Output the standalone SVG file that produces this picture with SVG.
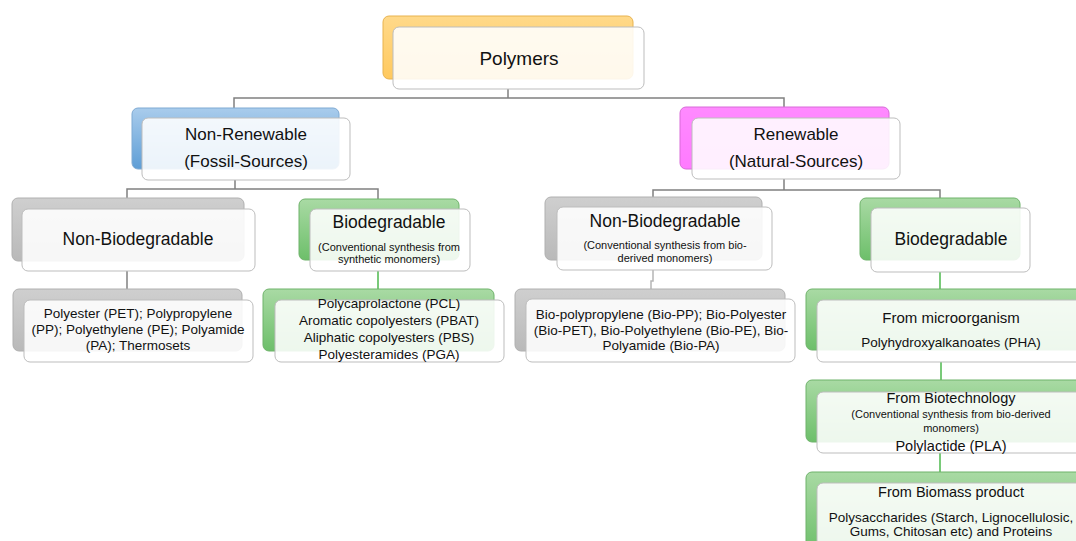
<svg xmlns="http://www.w3.org/2000/svg" width="1076" height="541" viewBox="0 0 1076 541">
<defs>
<linearGradient id="gOr" x1="0" y1="0" x2="0" y2="1"><stop offset="0" stop-color="#FFD98A"/><stop offset="1" stop-color="#FFC95E"/></linearGradient>
<linearGradient id="gBl" x1="0" y1="0" x2="0" y2="1"><stop offset="0" stop-color="#A9CCEC"/><stop offset="1" stop-color="#5E9ED6"/></linearGradient>
<linearGradient id="gMg" x1="0" y1="0" x2="0" y2="1"><stop offset="0" stop-color="#FF8AFF"/><stop offset="1" stop-color="#FF7AFF"/></linearGradient>
<linearGradient id="gGy" x1="0" y1="0" x2="0" y2="1"><stop offset="0" stop-color="#CFCFCF"/><stop offset="1" stop-color="#B9B9B9"/></linearGradient>
<linearGradient id="gGr" x1="0" y1="0" x2="0" y2="1"><stop offset="0" stop-color="#A9DAA4"/><stop offset="1" stop-color="#6DBF6A"/></linearGradient>
<style>
.bk{stroke-width:1;rx:6;ry:6}
.or{fill:url(#gOr);stroke:#E8B34F}
.bl{fill:url(#gBl);stroke:#7FAAD3}
.mg{fill:url(#gMg);stroke:#D86BD8}
.gy{fill:url(#gGy);stroke:#B0B0B0}
.gr{fill:url(#gGr);stroke:#6FB36B}
.fr{fill:#FFFFFF;fill-opacity:0.88;stroke:#BDBDBD;stroke-width:1;rx:6;ry:6}
text{font-family:"Liberation Sans",Arial,sans-serif;fill:#111;text-anchor:middle}
.t19{font-size:19px}
.t17{font-size:17px}
.t175{font-size:17.5px}
.t15{font-size:15px}
.t145{font-size:14.5px}
.t135{font-size:13.5px}
.t11{font-size:11px}
.cg{fill:none;stroke:#808080;stroke-width:1.5}
.cl{fill:none;stroke:#B5B5B5;stroke-width:1.5}
.cn{fill:none;stroke:#4CB84C;stroke-width:1.5}
</style>
</defs>
<rect width="1076" height="541" fill="#FFFFFF"/>
<g id="connectors">
<path class="cg" d="M508,89 V98 M234,108 V98 H784 V107"/>
<path class="cg" d="M235,180 V189 M127,198 V189 H378 V199"/>
<path class="cg" d="M784,179 V190 M653,197 V190 H940 V198"/>
<path class="cg" d="M127,271 V289"/>
<path class="cn" d="M378,271 V289"/>
<path class="cl" d="M653,270 V281 H651 V289"/>
<path class="cn" d="M940,272 V289"/>
<path class="cn" d="M941,362 V380"/>
<path class="cn" d="M940,453 V472"/>
</g>
<g id="polymers">
<rect class="bk or" x="383" y="16" width="250" height="63"/>
<rect class="fr" x="393" y="27" width="251" height="62"/>
<text class="t19" x="519" y="65">Polymers</text>
</g>
<g id="non-renewable">
<rect class="bk bl" x="132" y="108" width="207" height="61"/>
<rect class="fr" x="142" y="118" width="208" height="62"/>
<text class="t17" x="246" y="140">Non-Renewable</text>
<text class="t17" x="246" y="167">(Fossil-Sources)</text>
</g>
<g id="renewable">
<rect class="bk mg" x="680" y="107" width="209" height="62"/>
<rect class="fr" x="692" y="118" width="208" height="61"/>
<text class="t17" x="796" y="140">Renewable</text>
<text class="t17" x="796" y="167">(Natural-Sources)</text>
</g>
<g id="fossil-non-bio">
<rect class="bk gy" x="12" y="198" width="232" height="63"/>
<rect class="fr" x="22" y="209" width="233" height="62"/>
<text class="t175" x="138" y="245">Non-Biodegradable</text>
</g>
<g id="fossil-bio">
<rect class="bk gr" x="299" y="199" width="160" height="61"/>
<rect class="fr" x="310" y="209" width="160" height="62"/>
<text class="t175" x="389" y="228">Biodegradable</text>
<text class="t11" x="389" y="251">(Conventional synthesis from</text>
<text class="t11" x="389" y="263">synthetic monomers)</text>
</g>
<g id="natural-non-bio">
<rect class="bk gy" x="545" y="197" width="217" height="63"/>
<rect class="fr" x="557" y="207" width="215" height="63"/>
<text class="t175" x="665" y="227">Non-Biodegradable</text>
<text class="t11" x="665" y="249">(Conventional synthesis from bio-</text>
<text class="t11" x="665" y="262">derived monomers)</text>
</g>
<g id="natural-bio">
<rect class="bk gr" x="860" y="198" width="160" height="62"/>
<rect class="fr" x="871" y="208" width="159" height="64"/>
<text class="t175" x="951" y="245">Biodegradable</text>
</g>
<g id="fossil-non-bio-list">
<rect class="bk gy" x="13" y="289" width="229" height="62"/>
<rect class="fr" x="24" y="300" width="229" height="62"/>
<text class="t135" x="138" y="318">Polyester (PET); Polypropylene</text>
<text class="t135" x="138" y="334">(PP); Polyethylene (PE); Polyamide</text>
<text class="t135" x="138" y="350">(PA); Thermosets</text>
</g>
<g id="fossil-bio-list">
<rect class="bk gr" x="263" y="289" width="231" height="62"/>
<rect class="fr" x="275" y="300" width="229" height="62"/>
<text class="t135" x="389" y="308">Polycaprolactone (PCL)</text>
<text class="t135" x="389" y="325">Aromatic copolyesters (PBAT)</text>
<text class="t135" x="389" y="342">Aliphatic copolyesters (PBS)</text>
<text class="t135" x="389" y="359">Polyesteramides (PGA)</text>
</g>
<g id="natural-non-bio-list">
<rect class="bk gy" x="515" y="289" width="270" height="62"/>
<rect class="fr" x="526" y="299" width="269" height="63"/>
<text class="t135" x="661" y="319">Bio-polypropylene (Bio-PP); Bio-Polyester</text>
<text class="t135" x="661" y="335">(Bio-PET), Bio-Polyethylene (Bio-PE), Bio-</text>
<text class="t135" x="661" y="350">Polyamide (Bio-PA)</text>
</g>
<g id="microorganism">
<rect class="bk gr" x="806" y="289" width="300" height="61"/>
<rect class="fr" x="817" y="300" width="300" height="62"/>
<text class="t15" x="951" y="323">From microorganism</text>
<text class="t135" x="951" y="347">Polyhydroxyalkanoates (PHA)</text>
</g>
<g id="biotechnology">
<rect class="bk gr" x="806" y="380" width="300" height="62"/>
<rect class="fr" x="817" y="392" width="300" height="61"/>
<text class="t145" x="951" y="403">From Biotechnology</text>
<text class="t11" x="951" y="418">(Conventional synthesis from bio-derived</text>
<text class="t11" x="951" y="432">monomers)</text>
<text class="t145" x="951" y="451">Polylactide (PLA)</text>
</g>
<g id="biomass">
<rect class="bk gr" x="806" y="472" width="300" height="80"/>
<rect class="fr" x="817" y="483" width="300" height="80"/>
<text class="t145" x="951" y="497">From Biomass product</text>
<text class="t135" x="951" y="522">Polysaccharides (Starch, Lignocellulosic,</text>
<text class="t135" x="951" y="536">Gums, Chitosan etc) and Proteins</text>
</g>
</svg>
